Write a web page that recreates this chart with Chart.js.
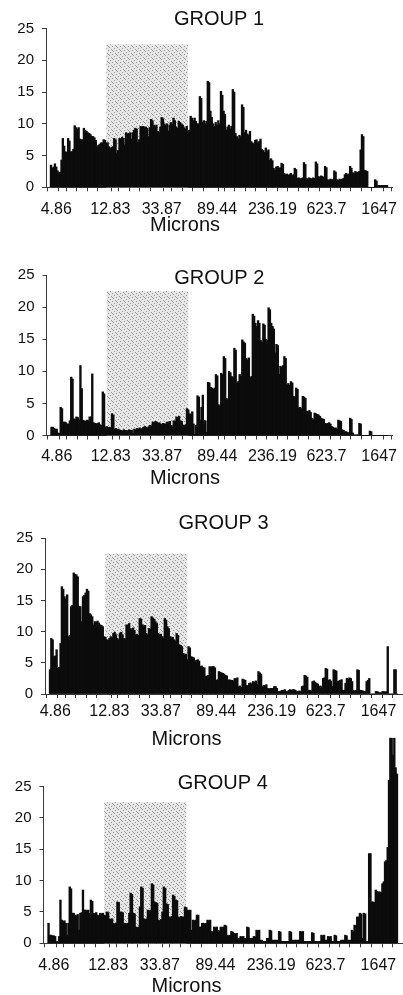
<!DOCTYPE html>
<html>
<head>
<meta charset="utf-8">
<script src="https://cdn.jsdelivr.net/npm/chart.js@4.4.1/dist/chart.umd.min.js"></script>
<style>
html,body{margin:0;padding:0;background:#fff;width:403px;height:995px;overflow:hidden;position:relative;}
canvas{position:absolute;}
</style>
</head>
<body>
<canvas id="c1"></canvas>
<canvas id="c2"></canvas>
<canvas id="c3"></canvas>
<canvas id="c4"></canvas>
<script>
// ---------- data ----------
const tickLabels = ['4.86', '12.83', '33.87', '89.44', '236.19', '623.7', '1647'];
const tickLabelBins = [4, 45, 84, 126, 168, 209, 249];   // channel where each size label sits
const binsPerTick = 8;
const yMin = 0, yMax = 25, yStep = 5;
const shadeFrom = 42.5, shadeTo = 104.5, shadeTop = 22.5;  // shaded size band (channels) and its height

const group1 = [
  3.5, 3, 3.2, 3.7, 3.2, 2.6, 2.3, 2.4,
  4.3, 7.7, 6.5, 5.6, 5.5, 7.7, 7.3, 5.6,
  5.6, 6, 9.7, 9.4, 9.2, 9.4, 7.6, 7.5,
  7.5, 9.3, 9, 8.8, 8.6, 8.5, 8.3, 8,
  8, 7.8, 7.4, 6.4, 6.6, 6.8, 7, 7,
  7.5, 7.4, 7, 7, 6.4, 6.1, 6.3, 6.4,
  7.7, 7.5, 5.4, 5.8, 7.7, 7.6, 7.9, 7.7,
  6.7, 8.6, 8.4, 8.5, 8.6, 7.6, 8.6, 9,
  9.3, 9.2, 7, 7.5, 9.6, 9.5, 9.6, 9.4,
  9.5, 9.3, 8, 9.4, 10.7, 10.5, 9.8, 9.5,
  9.8, 8.8, 8.6, 9.5, 11, 10.8, 10, 9.8,
  10, 8.8, 9.8, 10.2, 10, 10.9, 10.5, 9.5,
  9.3, 10.4, 10.2, 10, 9.8, 9.4, 9.2, 9.6,
  8.8, 9, 11.2, 10.9, 10.5, 10.9, 10.4, 10,
  10, 14.3, 14, 10.2, 10.5, 10, 10.4, 16.7,
  16.5, 12, 11, 10, 9.6, 10.2, 9.8, 10.5,
  10, 15.1, 14.5, 12, 11.5, 9, 9.5, 9.8,
  9.2, 9.6, 15.4, 15, 8.5, 8, 7.6, 8.2,
  8, 13, 12.6, 8.6, 9, 8.4, 8.2, 8.8,
  7.2, 7, 6.8, 7.4, 7.5, 7, 7.2, 7.6,
  6, 5.8, 5.5, 6.2, 5.6, 5.9, 4.3, 4.5,
  4.2, 3, 2.7, 3.2, 3.3, 3, 3.1, 3.8,
  3.6, 2.2, 2, 2.1, 1.9, 2, 2.2, 1.8,
  2, 3, 2.8, 1.4, 1.5, 1.3, 1.4, 1.5,
  3.9, 3.6, 1.4, 1.3, 1.5, 1.4, 1.3, 1.5,
  1.4, 4, 3.7, 1.7, 1.6, 1.8, 1.7, 1.6,
  3.3, 3.1, 1.2, 1.1, 1.3, 1.2, 1.2, 2.6,
  2.4, 1.2, 1.1, 1.3, 1.2, 1.3, 1.4, 2,
  2.2, 2, 2.1, 3.3, 3, 2.3, 2.2, 2.5,
  2.3, 2.4, 2.5, 5.9, 8.3, 8, 2.7, 2.6,
  2.5, 0, 0, 0, 0, 0, 1.2, 1,
  0.3, 0.3, 0.3, 0.3, 0.3, 0.3, 0.3, 0.3
];

const group2 = [
  1.3, 1.3, 1.1, 1, 1, 0.4, 0.3, 4.4,
  4.2, 2.1, 2.1, 2, 1.8, 1.8, 2.3, 9.1,
  8.8, 2.6, 2.5, 2.9, 2.8, 2.4, 10.9, 7.3,
  2.4, 2.3, 2.2, 2.4, 2.3, 2.9, 2.9, 9.6,
  2, 1.9, 1.8, 1.9, 2, 1.7, 1.6, 6.8,
  6.5, 1.3, 1.4, 1.2, 1.3, 1.2, 3.4, 3.2,
  1, 1.1, 0.9, 1, 0.8, 0.8, 0.7, 0.9,
  0.8, 0.8, 0.7, 0.9, 0.8, 0.8, 0.3, 1,
  0.9, 1.1, 1, 1.2, 1, 1.1, 1.3, 1.4,
  1.3, 1.2, 1.4, 1.6, 1.5, 2.1, 2, 2.2,
  2.1, 1.9, 2, 1.8, 1.7, 1.9, 1.8, 1.8,
  2.1, 2, 2.2, 1.6, 1.5, 2.3, 2.2, 2.9,
  2.8, 3, 2.3, 2.2, 1.6, 1.5, 1.7, 4.2,
  4, 3.4, 3.3, 3.7, 1.8, 0.2, 1.6, 6.2,
  6, 2.4, 4.4, 6.3, 2.4, 2.3, 0.5, 8.3,
  8.2, 7.5, 7.4, 7.2, 7.4, 9.5, 9.3, 4.8,
  4.6, 9.7, 9.5, 12.3, 12, 5.8, 5.6, 10,
  9.8, 9.2, 9, 13.6, 13.3, 8.2, 8.4, 9.5,
  9.3, 14.9, 14.6, 14.4, 12, 11.8, 12.1, 9,
  9.2, 18.9, 18.6, 17.5, 17, 17.9, 17.5, 14.8,
  14.5, 17.4, 17.2, 15, 14.8, 19.9, 19.6, 17.5,
  17, 16.6, 12.9, 14.2, 14, 9.5, 10.8, 10.6,
  10.9, 12.3, 12, 7.9, 8.1, 7.8, 8.4, 8.2,
  6.1, 6, 7.4, 7.2, 4.3, 4.4, 4.2, 6.1,
  6, 5.8, 3.8, 3.7, 3.9, 3.6, 2.7, 2.6,
  3.5, 3.4, 3.3, 3.2, 3, 2.7, 2.6, 2.5,
  1.9, 1.8, 1.9, 2, 1.8, 1.4, 1.3, 1.1,
  1.2, 1, 2.4, 2.3, 2.2, 0.9, 0.8, 0.6,
  0.6, 0.5, 0.4, 2.7, 2.5, 0.4, 0.1, 0.1,
  0.1, 0.1, 1.9, 1.8, 0, 0, 0, 0,
  0, 0, 0.7, 0.6, 0, 0, 0, 0,
  0, 0, 0, 0, 0, 0, 0, 0
];

const group3 = [
  3.9, 8.9, 8.7, 6, 6.1, 7.1, 4.1, 4.3,
  8.1, 17.2, 16.8, 15.6, 15.2, 15.9, 9.2, 9.4,
  14, 14.2, 19.4, 19.2, 19.1, 18.8, 14, 14,
  11.6, 15.6, 15.8, 16.2, 16.8, 16.5, 12.9, 12.7,
  12.4, 11.1, 11.6, 11.5, 11.7, 11.4, 11.1, 11,
  10.8, 9.2, 9.1, 8.7, 8.6, 8.9, 9.2, 9,
  9.7, 9.9, 9.5, 8.9, 8.7, 9.7, 9.9, 9.5,
  8.9, 8.8, 11.1, 11, 11.3, 10.5, 10.3, 10.6,
  10.2, 9.5, 9.6, 9.4, 12.1, 12, 11.1, 10.9,
  11, 9.7, 9.5, 10.5, 10.4, 12.4, 12.2, 12,
  11.6, 11.3, 9.7, 9.5, 9.6, 9.2, 9, 12.1,
  11.8, 10.8, 10.5, 9.2, 9, 9.1, 8.7, 8.5,
  9.7, 9.4, 7.9, 7.8, 7.6, 6.5, 6.3, 6.4,
  5.5, 7.6, 7.4, 6, 5.9, 5.8, 5.2, 5.4,
  5.5, 5.3, 4.4, 4.5, 4.3, 4.2, 2.8, 2.9,
  3, 4.4, 4.3, 4.4, 4.4, 4.2, 2.2, 2.3,
  3.6, 3.5, 3.4, 3.3, 3.2, 3, 2.9, 2.2,
  2.3, 2.2, 2.2, 2.1, 2.5, 2.4, 2.6, 1.2,
  1.3, 1.1, 2.4, 2.3, 2.2, 1.4, 1.3, 1.7,
  1.8, 1.6, 2, 1.9, 2.1, 1.5, 3.6, 3.4,
  3.2, 1.2, 1.4, 1.3, 1.5, 0.9, 0.8, 0.9,
  0.9, 0.9, 1.2, 1.2, 0.9, 0.4, 0.4, 0.5,
  0.6, 0.6, 0.7, 0.4, 0.4, 0.6, 0.7, 0.6,
  0.7, 0.7, 0.6, 0.4, 0.4, 0.5, 0.4, 1.2,
  1.3, 3, 2.9, 2.7, 0.6, 0.6, 0.5, 2,
  2.1, 1.9, 1.7, 1.6, 1.2, 1.3, 1.1, 2.5,
  2.6, 4.1, 4, 2.2, 2.3, 2.1, 1.2, 3.9,
  3.8, 3.7, 2, 2.1, 2.2, 2.3, 0.6, 0.6,
  1.7, 2.5, 2.4, 2.6, 2.5, 2, 0.6, 0.5,
  0.6, 3.9, 3.8, 0.6, 0.6, 0.5, 0.4, 0.4,
  2, 2.2, 2.5, 0, 0, 0, 0, 0.4,
  0.4, 0.3, 0.2, 0.2, 0.4, 0.4, 0.3, 0.4,
  7.6, 0, 0, 0, 0, 3.9, 3.9, 0
];

const group4 = [
  3.2, 1.3, 1.3, 1.2, 1.2, 1.1, 0.3, 0.3,
  1.1, 6.9, 3.7, 3.5, 3.6, 3.2, 1.3, 3.2,
  9, 8.7, 4.8, 4.8, 4.5, 4.4, 4.6, 2.1,
  4.8, 4.9, 8.5, 5.3, 5.3, 5.2, 5.3, 4.8,
  6.9, 6.7, 4.8, 4.7, 4.9, 4.5, 4.4, 4.8,
  4.7, 4.8, 4.5, 4.4, 5, 4.9, 3.9, 3.8,
  3.9, 3.2, 3.1, 3.2, 6.6, 6.5, 5, 5,
  4.9, 3.2, 3.2, 3.1, 3.2, 4.8, 8, 7.8,
  4.8, 4.7, 2.6, 2.5, 2.6, 5.8, 9, 8.8,
  3.9, 3.8, 3.9, 5.3, 5.2, 5.3, 9.5, 9.3,
  6.6, 6.5, 6.4, 3.7, 3.6, 3.8, 5, 9,
  8.8, 6.3, 6.2, 4.2, 4.1, 4.3, 7.7, 7.5,
  6.9, 6.8, 4.2, 4.1, 4.3, 4.2, 4.2, 5.8,
  5.7, 5.3, 5.2, 5.3, 2.1, 3.7, 3.6, 3.7,
  4.5, 4.5, 2.6, 2.6, 3.2, 3.2, 3.1, 3.2,
  3.7, 3.6, 3.7, 1.9, 1.8, 2.6, 2.5, 2.6,
  2.1, 2, 2.6, 2.5, 2.6, 2.9, 2.8, 1.3,
  1.2, 1.3, 1.9, 1.8, 1.6, 1.5, 1.6, 0.8,
  0.8, 1.1, 1, 1.1, 0.8, 0.8, 2.6, 2.5,
  0.8, 0.8, 0.8, 1.1, 1, 2.1, 2, 2.1,
  0.5, 0.5, 0.3, 0.3, 0.3, 0.8, 0.8, 2.1,
  2, 0.5, 0.5, 0.5, 0.5, 0.5, 1.9, 1.8,
  0.3, 0.3, 0.3, 0.3, 0.3, 0.3, 1.9, 1.8,
  0.5, 0.5, 0.5, 0.5, 0.5, 0.5, 1.9, 1.8,
  1.9, 0.3, 0.3, 0.3, 0.3, 0.3, 0.3, 1.7,
  1.6, 0.3, 0.3, 0.3, 0.3, 0.3, 1.3, 1.2,
  1.3, 0.5, 0.5, 1.1, 1, 1.1, 0.3, 0.3,
  1.3, 1.2, 0.3, 0.3, 0.3, 0.5, 0.5, 0.5,
  1.3, 1.2, 0.5, 0.5, 0.5, 2.1, 2, 2.9,
  2.8, 4.2, 4.2, 4.8, 4.7, 0.8, 4.8, 4.7,
  0.3, 0.3, 14.3, 14.3, 6.6, 6.6, 6.5, 8.5,
  8.3, 8.2, 8.2, 8.1, 9.5, 9.8, 13, 13.2,
  15.3, 26, 32.7, 32.7, 30, 32.7, 28, 27
];

const groupTitles = ['GROUP 1', 'GROUP 2', 'GROUP 3', 'GROUP 4'];
const axisTitle = 'Microns';

// ---------- layout (page pixels) ----------
const layouts = [
  {L: -22, R: 392, plotLeft: 46,   top: 0,   plotTop: 28.5, plotBottom: 187.3, titleY: 19,    labelY: 209.5, axisTitleY: 225.6},
  {L: -22, R: 392, plotLeft: 46.5, top: 255, plotTop: 275,  plotBottom: 435.5, titleY: 278,   labelY: 456.7, axisTitleY: 478.3},
  {L: -29, R: 402, plotLeft: 45,   top: 500, plotTop: 538,  plotBottom: 694,   titleY: 523,   labelY: 712,   axisTitleY: 739},
  {L: -29, R: 402, plotLeft: 43.5, top: 730, plotTop: 786.5, plotBottom: 943.3, titleY: 783.5, labelY: 966,  axisTitleY: 986}
];

const FONT = "'Liberation Sans', Arial, Helvetica, sans-serif";
Chart.defaults.font.family = FONT;
Chart.defaults.color = '#111';

function stipple(ctx) {
  const c = document.createElement('canvas');
  c.width = 8; c.height = 8;
  const g = c.getContext('2d');
  g.fillStyle = '#e6e6e6'; g.fillRect(0, 0, 8, 8);
  g.fillStyle = '#9a9a9a';
  [[0, 0], [5, 1], [2, 2], [7, 3], [4, 4], [1, 5], [6, 6], [3, 7], [6, 2], [2, 6]]
    .forEach(p => g.fillRect(p[0], p[1], 1, 1));
  return ctx.createPattern(c, 'repeat');
}

const shadePlugin = {
  id: 'shade',
  beforeDatasetsDraw(chart) {
    const {ctx, scales} = chart;
    const x1 = scales.x.getPixelForValue(shadeFrom), x2 = scales.x.getPixelForValue(shadeTo);
    const y1 = scales.y.getPixelForValue(shadeTop), y2 = scales.y.getPixelForValue(0);
    ctx.save();
    ctx.fillStyle = stipple(ctx);
    ctx.fillRect(x1, y1, x2 - x1, y2 - y1);
    ctx.restore();
  }
};

const TITLE_SIZE = 20, AXIS_TITLE_SIZE = 20, AXIS_TITLE_LH = 10;
const TICK_X_SIZE = 16, TICK_Y_SIZE = 15, TICK_LEN = 4;
const RIGHT_EXTRA = 14;
const AXIS_COLOR = '#3a3a3a';

[group1, group2, group3, group4].forEach((values, gi) => {
  const g = layouts[gi];
  const nBins = values.length;
  const W = g.R - g.L + RIGHT_EXTRA;
  const yW = g.plotLeft - g.L;
  const tPadTop = g.titleY - g.top - TITLE_SIZE / 2;
  const tPadBottom = (g.plotTop - g.top) - TITLE_SIZE - tPadTop;
  const xAxisH = g.labelY - g.plotBottom + 11;
  const sPadTop = g.axisTitleY - g.plotBottom - xAxisH - AXIS_TITLE_LH / 2;
  const need = g.axisTitleY + 11 - g.top;
  const H = Math.ceil(need);
  const xPad = g.labelY - g.plotBottom - TICK_LEN - TICK_X_SIZE * 0.6;
  const binPx = (g.R - g.plotLeft) / nBins;

  const canvas = document.getElementById('c' + (gi + 1));
  canvas.width = W; canvas.height = H;
  canvas.style.left = g.L + 'px'; canvas.style.top = g.top + 'px';
  canvas.style.width = W + 'px'; canvas.style.height = H + 'px';

  new Chart(canvas, {
    type: 'bar',
    data: {
      datasets: [{
        data: values.map((v, i) => ({x: i + 0.5, y: v})),
        backgroundColor: '#0c0c0c',
        borderWidth: 0,
        barThickness: binPx + 0.35,
        clip: false
      }]
    },
    options: {
      responsive: false,
      maintainAspectRatio: false,
      devicePixelRatio: 1,
      animation: false,
      layout: {padding: {left: 0, right: RIGHT_EXTRA, top: 0, bottom: H - (g.axisTitleY + AXIS_TITLE_LH / 2 - g.top)}},
      plugins: {
        legend: {display: false},
        tooltip: {enabled: false},
        title: {
          display: true, text: groupTitles[gi], position: 'top', fullSize: false,
          color: '#111', font: {size: TITLE_SIZE, weight: 'normal', lineHeight: 1},
          padding: {top: tPadTop, bottom: tPadBottom}
        },
        subtitle: {
          display: true, text: axisTitle, position: 'bottom', fullSize: true,
          color: '#111', font: {size: AXIS_TITLE_SIZE, weight: 'normal', lineHeight: AXIS_TITLE_LH / AXIS_TITLE_SIZE},
          padding: {top: sPadTop, bottom: 0}
        }
      },
      scales: {
        x: {
          type: 'linear', min: 0, max: nBins,
          afterBuildTicks(scale) {
            const t = [];
            for (let v = 0; v <= nBins; v += binsPerTick) t.push({value: v});
            tickLabelBins.forEach((b, i) => t.push({value: b + 0.5, labelIndex: i}));
            t.sort((a, b) => a.value - b.value);
            scale.ticks = t;
          },
          afterFit(scale) { scale.height = xAxisH; scale.paddingLeft = 0; scale.paddingRight = 0; },
          grid: {
            drawOnChartArea: false, drawTicks: true, tickLength: TICK_LEN,
            tickColor: ctx => (ctx.tick && ctx.tick.labelIndex !== undefined) ? 'rgba(0,0,0,0)' : AXIS_COLOR
          },
          border: {display: true, color: AXIS_COLOR, width: 1},
          ticks: {
            autoSkip: false, maxRotation: 0, minRotation: 0, padding: xPad,
            color: '#111', font: {size: TICK_X_SIZE},
            callback(value, index, ticks) {
              const tk = ticks[index];
              return (tk && tk.labelIndex !== undefined) ? tickLabels[tk.labelIndex] : '';
            }
          }
        },
        y: {
          type: 'linear', min: yMin, max: yMax,
          afterFit(scale) { scale.width = yW; },
          grid: {drawOnChartArea: false, drawTicks: true, tickLength: TICK_LEN, tickColor: AXIS_COLOR},
          border: {display: true, color: AXIS_COLOR, width: 1},
          ticks: {stepSize: yStep, padding: 8, color: '#111', font: {size: TICK_Y_SIZE}}
        }
      }
    },
    plugins: [shadePlugin]
  });
});
</script>
</body>
</html>
